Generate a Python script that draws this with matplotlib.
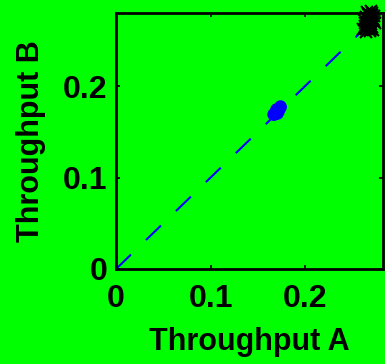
import matplotlib
matplotlib.use("Agg")
import matplotlib.pyplot as plt

# Throughput pairs per run
thr_a_black = [0.261, 0.263, 0.265, 0.266, 0.268, 0.269, 0.270, 0.271, 0.272, 0.273,
               0.262, 0.264, 0.267, 0.269, 0.271, 0.273, 0.274, 0.266, 0.268, 0.270,
               0.264, 0.267, 0.272, 0.265, 0.269, 0.263, 0.271, 0.268, 0.266, 0.270]
thr_b_black = [0.262, 0.266, 0.259, 0.270, 0.263, 0.274, 0.268, 0.278, 0.261, 0.271,
               0.272, 0.276, 0.279, 0.260, 0.265, 0.277, 0.269, 0.281, 0.275, 0.282,
               0.263, 0.268, 0.273, 0.264, 0.270, 0.269, 0.280, 0.278, 0.267, 0.263]

thr_a_blue = [0.166, 0.168, 0.170, 0.171, 0.172, 0.173, 0.169, 0.167, 0.171, 0.174]
thr_b_blue = [0.170, 0.172, 0.171, 0.174, 0.176, 0.178, 0.175, 0.169, 0.173, 0.177]

diag = [0, 0.28]

x_ticks = [0, 0.1, 0.2]
y_ticks = [0, 0.1, 0.2]
x_tick_labels = ["0", "0.1", "0.2"]
y_tick_labels = ["0", "0.1", "0.2"]

plt.rcParams['font.family'] = ['Liberation Sans', 'DejaVu Sans']

green = "#00ff00"
fig = plt.figure(figsize=(3.85, 3.64), dpi=100, facecolor=green)
ax = fig.add_axes([116 / 385, 1 - 269 / 364, 267 / 385, 256 / 364])
ax.set_facecolor(green)

ax.plot(diag, diag, color="#0000ff", linestyle=(0, (10, 10)), linewidth=1.5)
ax.plot(thr_a_blue, thr_b_blue, linestyle="none", marker="o", markersize=8,
        color="#0000ff", clip_on=False)
ax.plot(thr_a_black, thr_b_black, linestyle="none", marker="x", markersize=9,
        markeredgewidth=1.5, color="black", clip_on=False)

ax.set_xlim(0, 0.2825)
ax.set_ylim(0, 0.28)
ax.set_xticks(x_ticks)
ax.set_xticklabels(x_tick_labels)
ax.set_yticks(y_ticks)
ax.set_yticklabels(y_tick_labels)
ax.tick_params(direction="in", length=3, width=1.2, top=True, right=True,
               labelsize=23)
ax.tick_params(axis="x", pad=11)
ax.tick_params(axis="y", pad=6)
for lbl in ax.get_xticklabels() + ax.get_yticklabels():
    lbl.set_fontweight("bold")
for s in ax.spines.values():
    s.set_linewidth(2)

ax.set_xlabel("Throughput A", fontsize=22, fontweight="bold", labelpad=9)
ax.set_ylabel("Throughput B", fontsize=22, fontweight="bold", labelpad=12)

fig.savefig("out.png", dpi=100, facecolor=green)
